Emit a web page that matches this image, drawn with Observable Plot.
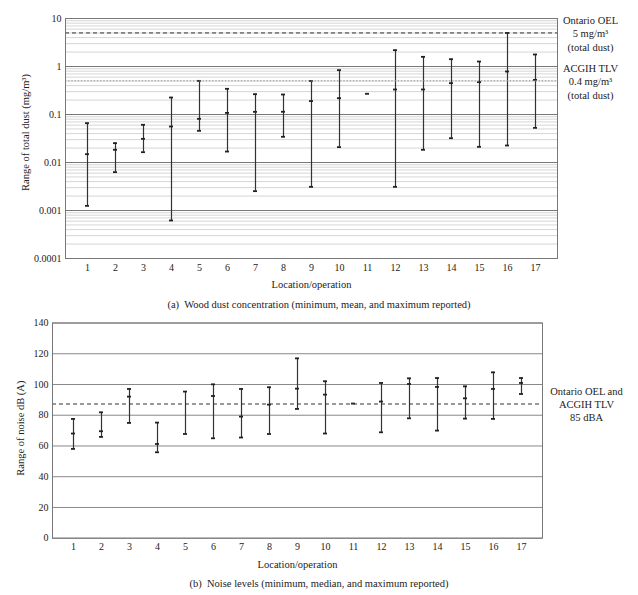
<!DOCTYPE html>
<html><head><meta charset="utf-8">
<script src="https://cdn.jsdelivr.net/npm/d3@7"></script>
<script src="https://cdn.jsdelivr.net/npm/@observablehq/plot@0.6"></script>
<style>
body{margin:0;background:#fff;}
#fig{position:relative;width:638px;height:595px;font-family:"Liberation Serif",serif;color:#222;background:#fff;}
.panel{position:absolute;left:0;}
.cap{position:absolute;left:0;width:638px;text-align:center;font-size:10.5px;line-height:14px;white-space:pre;}
</style></head><body>
<div id="fig">
<div id="top" class="panel" style="top:0"></div>
<div class="cap" style="top:298px">(a)  Wood dust concentration (minimum, mean, and maximum reported)</div>
<div id="bot" class="panel" style="top:310px"></div>
<div class="cap" style="top:577px">(b)  Noise levels (minimum, median, and maximum reported)</div>
</div>
<script>
// Categories
const locations = [1,2,3,4,5,6,7,8,9,10,11,12,13,14,15,16,17];

// Panel (a): wood dust (mg/m3)
const dustMin  = [0.00125,0.0063,0.0164,0.00062,0.0457,0.0169,0.00253,0.0343,0.00311,0.0209,null,0.00311,0.0184,0.0321,0.0212,0.0226,0.0527];
const dustMean = [0.0149,0.0184,0.0311,0.0562,0.0813,0.108,0.1136,0.114,0.19,0.219,0.27,0.332,0.332,0.45,0.472,0.787,0.527];
const dustMax  = [0.066,0.0253,0.061,0.226,0.502,0.343,0.265,0.261,0.5,0.84,null,2.19,1.59,1.42,1.27,5.0,1.78];
const dustOEL = 5;
const dustTLV = 0.5;
const dustTicks = [0.0001,0.001,0.01,0.1,1,10];

// Panel (b): noise dB(A)
const noiseMin    = [58.1,65.9,75,55.9,67.8,65,65.5,67.8,84.1,68.1,null,68.9,78,70,77.8,77.6,93.8];
const noiseMedian = [68.1,69.6,92.1,61.3,null,92.5,79.1,86.9,97.3,93.4,87.6,88.9,100.3,98.4,91,97.1,101];
const noiseMax    = [77.6,81.9,97.1,75.2,95.4,100.1,97.1,98.2,117,102.1,null,101,104,104.2,98.8,107.9,104.2];
const noiseLimit = 87.3;
const noiseTicks = [0,20,40,60,80,100,120,140];

const FONT = "Liberation Serif";
const INK = "#333";

function panel(opts) {
  const rows = locations.map((loc, i) => ({loc, min: opts.min[i], mid: opts.mid[i], max: opts.max[i]}));
  const capDefs = ["min","mid","max"].map(k =>
    Plot.tickY(rows.filter(d => d[k] != null), {x: "loc", y: k, stroke: "#222", strokeWidth: 1.8, insetLeft: 12, insetRight: 12})
  );
  return Plot.plot({
    width: 638,
    height: opts.height,
    marginTop: opts.mt, marginBottom: opts.mb, marginLeft: opts.ml, marginRight: opts.mr,
    style: {fontFamily: FONT, fontSize: "10px", color: "#222", background: "#fff"},
    x: {type: "band", domain: locations, padding: 0},
    y: opts.y,
    marks: [
      ...opts.grid,
      Plot.ruleX(rows.filter(d => d.min != null && d.max != null), {x: "loc", y1: "min", y2: "max", stroke: INK, strokeWidth: 1.2}),
      ...capDefs,
      opts.limits,
      Plot.frame({stroke: "#777"}),
      Plot.axisX({tickSize: 0, tickPadding: 5, label: null, fontSize: 10}),
      Plot.axisY({ticks: opts.ticks, tickFormat: d => String(d), tickSize: 0, tickPadding: 4, label: null, fontSize: 10}),
      Plot.text(["Location/operation"], {frameAnchor: "bottom", dy: 26, lineAnchor: "middle", textAnchor: "middle", fontSize: 10.5, fill: "#222"}),
      Plot.text([opts.ylabel], {frameAnchor: "left", rotate: -90, textAnchor: "middle", lineAnchor: "middle", dx: opts.ylabelDx, dy: opts.ylabelDy, fontSize: 10.5, fill: "#222"}),
      ...opts.notes
    ]
  });
}

const minorDust = d3.scaleLog().domain([0.0001, 10]).ticks().filter(v => !dustTicks.some(t => Math.abs(t - v) / t < 1e-9));

const topChart = panel({
  height: 296, mt: 18, mb: 38, ml: 65, mr: 81,
  min: dustMin, mid: dustMean, max: dustMax,
  y: {type: "log", domain: [0.0001, 10]},
  ticks: dustTicks,
  grid: [
    Plot.ruleY(minorDust, {stroke: "#d6d6d6", strokeWidth: 1}),
    Plot.ruleY(dustTicks, {stroke: "#777", strokeWidth: 1})
  ],
  limits: [
    Plot.ruleY([dustOEL], {stroke: "#333", strokeDasharray: "4,3", strokeWidth: 1}),
    Plot.ruleY([dustTLV], {stroke: "#999", strokeDasharray: "1.2,2", strokeWidth: 1.2})
  ],
  ylabel: "Range of total dust (mg/m³)", ylabelDx: -40, ylabelDy: -6,
  notes: [
    Plot.text([{y: dustOEL, t: "Ontario OEL\n5 mg/m³\n(total dust)"}, {y: dustTLV, t: "ACGIH TLV\n0.4 mg/m³\n(total dust)"}],
      {y: "y", text: "t", frameAnchor: "right", dx: 33, textAnchor: "middle", lineAnchor: "middle", lineHeight: 1.28, fontSize: 10.5, fill: "#222"})
  ]
});

const botChart = panel({
  height: 260, mt: 12.5, mb: 32.3, ml: 52, mr: 96,
  min: noiseMin, mid: noiseMedian, max: noiseMax,
  y: {type: "linear", domain: [0, 140]},
  ticks: noiseTicks,
  grid: [Plot.ruleY(noiseTicks, {stroke: "#888", strokeWidth: 1})],
  limits: [Plot.ruleY([noiseLimit], {stroke: "#333", strokeDasharray: "4,3", strokeWidth: 1})],
  ylabel: "Range of noise dB (A)", ylabelDx: -32, ylabelDy: -2.5,
  notes: [
    Plot.text([{y: noiseLimit, t: "Ontario OEL and\nACGIH TLV\n85 dBA"}],
      {y: "y", text: "t", frameAnchor: "right", dx: 44, textAnchor: "middle", lineAnchor: "middle", lineHeight: 1.2, fontSize: 10.5, fill: "#222"})
  ]
});

document.getElementById("top").appendChild(topChart);
document.getElementById("bot").appendChild(botChart);
</script>
</body></html>
